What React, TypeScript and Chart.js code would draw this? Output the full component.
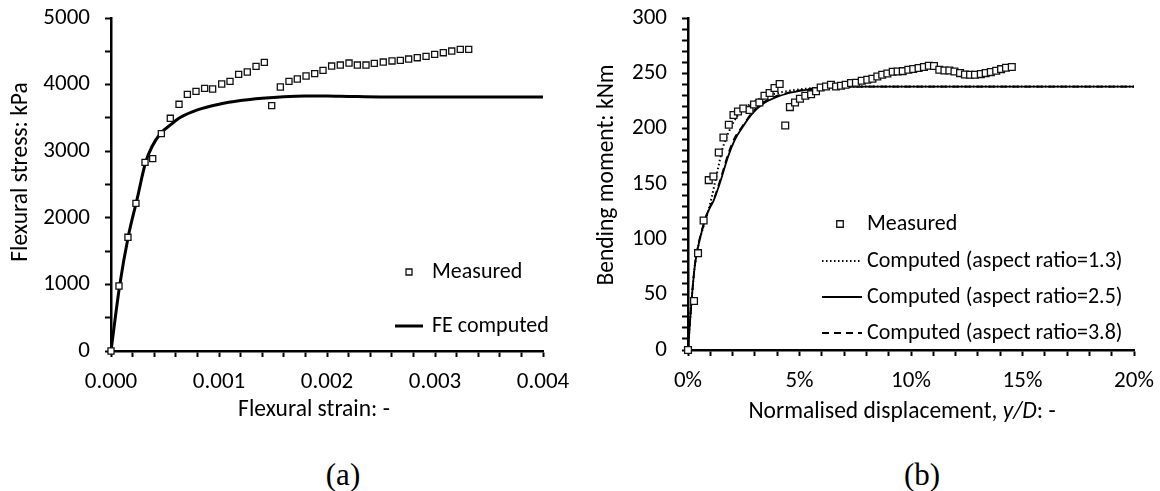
import React, { useEffect, useRef } from 'react';
import { Chart, registerables } from 'chart.js';

Chart.register(...registerables);

const FONT = 'Carlito, Calibri, Lato, "Open Sans", sans-serif';
const SERIF = '"Liberation Serif", "Times New Roman", serif';
const FS_TICK = 23;
const FS_TITLE = 23.5;
const FS_LEGEND = 22;

// ---------- Panel (a): flexural stress vs strain ----------
const strainMeasured = [
  0, 0.000074, 0.000157, 0.000231, 0.000315, 0.000386, 0.000466, 0.000549, 0.00063, 0.000707,
  0.000787, 0.000867, 0.000941, 0.001025, 0.001102, 0.001182, 0.001262, 0.001343, 0.00142, 0.001488,
  0.001568, 0.001648, 0.001725, 0.001806, 0.001886, 0.001963, 0.002043, 0.002123, 0.002204, 0.002281,
  0.002361, 0.002438, 0.002521, 0.002602, 0.002679, 0.002756, 0.002836, 0.002917, 0.002997, 0.003077,
  0.003155, 0.003234, 0.003312,
];
const stressMeasured = [
  0, 976, 1707, 2217, 2833, 2888, 3263, 3494, 3704, 3854,
  3899, 3944, 3934, 4009, 4049, 4154, 4189, 4274, 4334, 3684,
  3964, 4049, 4084, 4129, 4164, 4214, 4279, 4294, 4324, 4294,
  4294, 4319, 4339, 4355, 4364, 4384, 4404, 4424, 4454, 4479,
  4504, 4529, 4529,
];
const strainFE = [
  0, 0.00008, 0.00016, 0.00024, 0.00032, 0.00038, 0.00046, 0.00055, 0.00064, 0.0008,
  0.001, 0.0012, 0.0014, 0.0016, 0.0018, 0.002, 0.0022, 0.0025, 0.003, 0.0035, 0.004,
];
const stressFE = [
  0, 980, 1720, 2270, 2830, 3070, 3270, 3395, 3505, 3620,
  3705, 3760, 3795, 3818, 3828, 3828, 3822, 3815, 3815, 3815, 3815,
];
const strainTicksMajor = [0, 0.001, 0.002, 0.003, 0.004];

// ---------- Panel (b): bending moment vs normalised displacement (%) ----------
const dispMeasured = [
  0, 0.27, 0.45, 0.7, 0.93, 1.14, 1.38, 1.59, 1.83, 2.04,
  2.24, 2.48, 2.76, 2.96, 3.2, 3.43, 3.66, 3.88, 4.11, 4.36,
  4.57, 4.8, 5.02, 5.26, 5.52, 5.74, 5.95, 6.19, 6.41, 6.64,
  6.86, 7.07, 7.31, 7.53, 7.79, 8.04, 8.27, 8.49, 8.71, 8.94,
  9.18, 9.4, 9.63, 9.88, 10.1, 10.34, 10.58, 10.8, 11.03, 11.27,
  11.5, 11.72, 11.95, 12.2, 12.42, 12.65, 12.87, 13.13, 13.35, 13.58,
  13.82, 14.04, 14.26, 14.52,
];
const momentMeasured = [
  0, 44.3, 87.5, 117, 153.5, 156.8, 178.5, 192, 203.5, 212.3,
  215.5, 218.2, 216.8, 221.9, 223.7, 229.7, 232.2, 236.7, 240.3, 202.9,
  219.5, 223.7, 227, 229.7, 231.2, 233.9, 237.2, 238.1, 239.7, 238.1,
  238.8, 239.7, 241.2, 241.5, 243.3, 244.2, 245.1, 247.2, 248.7, 249.9,
  251.4, 251.7, 252, 253.2, 253.9, 254.8, 255.7, 256.9, 256.6, 253.2,
  252.6, 252.6, 251.7, 250.2, 249, 248.7, 248.7, 249.3, 250.2, 251.1,
  252.3, 253.8, 255, 255.7,
];
const dispAR13 = [0, 0.15, 0.3, 0.45, 0.7, 0.9, 1.05, 1.25, 1.55, 1.85, 2.2, 2.65, 3.25, 4.1, 5, 6.3, 8, 10, 15, 20];
const momentAR13 = [0, 42, 75, 93, 112, 125, 137, 155, 182, 198, 211, 220, 227.5, 232.5, 235.5, 237.5, 238, 238, 238, 238];
const dispAR25 = [0, 0.15, 0.3, 0.45, 0.7, 0.9, 1.15, 1.45, 1.8, 2.1, 2.4, 2.9, 3.4, 3.9, 4.5, 5.3, 6.5, 8, 10, 15, 20];
const momentAR25 = [0, 42, 75, 93, 113, 125, 135, 152, 175, 190, 200, 214, 223, 228, 232, 235, 237.5, 238, 238, 238, 238];
const dispAR38 = [0, 0.15, 0.3, 0.45, 0.7, 0.9, 1.15, 1.45, 1.8, 2.1, 2.4, 2.9, 3.4, 3.9, 4.5, 5.3, 6.5, 8, 10, 15, 20];
const momentAR38 = [0, 42, 76, 94, 114, 126, 136, 154, 177, 192, 201, 215, 224, 229, 232.5, 235.5, 237.5, 238, 238, 238, 238];

const legendA = ['Measured', 'FE computed'];
const legendB = [
  'Measured',
  'Computed (aspect ratio=1.3)',
  'Computed (aspect ratio=2.5)',
  'Computed (aspect ratio=3.8)',
];

const pts = (xs: number[], ys: number[]) => xs.map((x, i) => ({ x, y: ys[i] }));

const isMultiple = (v: number, step: number) => {
  const k = v / step;
  return Math.abs(k - Math.round(k)) < 1e-6;
};

function axisBase(min: number, max: number, step: number, cb: (v: number) => string) {
  return {
    type: 'linear' as const,
    min,
    max,
    border: { display: true, color: '#000', width: 2.5 },
    grid: {
      display: true,
      drawOnChartArea: false,
      drawTicks: true,
      tickLength: 6,
      tickWidth: 2,
      tickColor: '#000',
      color: '#000',
    },
    ticks: {
      stepSize: step,
      autoSkip: false,
      maxTicksLimit: 200,
      maxRotation: 0,
      minRotation: 0,
      color: '#000',
      font: { family: FONT, size: FS_TICK },
      callback: (v: any) => cb(Number(v)),
    },
  };
}

function xAxis(min: number, max: number, step: number, cb: (v: number) => string) {
  const a: any = axisBase(min, max, step, cb);
  a.position = 'bottom';
  a.ticks.padding = 11;
  a.afterFit = (s: any) => {
    s.height = 60;
    s.paddingLeft = 0;
    s.paddingRight = 0;
  };
  return a;
}

function yAxis(min: number, max: number, step: number, width: number, cb: (v: number) => string) {
  const a: any = axisBase(min, max, step, cb);
  a.position = 'left';
  a.ticks.padding = 15;
  a.afterFit = (s: any) => {
    s.width = width;
    s.paddingTop = 0;
    s.paddingBottom = 0;
  };
  return a;
}

function drawSquare(ctx: CanvasRenderingContext2D, x: number, y: number, side: number) {
  ctx.beginPath();
  ctx.rect(x - side / 2, y - side / 2, side, side);
  ctx.fillStyle = '#fff';
  ctx.fill();
  ctx.lineWidth = 1.3;
  ctx.strokeStyle = '#111';
  ctx.stroke();
}

function drawSegments(
  ctx: CanvasRenderingContext2D,
  segs: [string, boolean][],
  cx: number,
  cy: number,
) {
  const widths = segs.map(([s, it]) => {
    ctx.font = `${it ? 'italic ' : ''}${FS_TITLE}px ${FONT}`;
    return ctx.measureText(s).width;
  });
  const total = widths.reduce((a, b) => a + b, 0);
  let x = cx - total / 2;
  ctx.textAlign = 'left';
  ctx.textBaseline = 'middle';
  ctx.fillStyle = '#000';
  segs.forEach(([s, it], i) => {
    ctx.font = `${it ? 'italic ' : ''}${FS_TITLE}px ${FONT}`;
    ctx.fillText(s, x, cy);
    x += widths[i];
  });
}

function drawRotated(ctx: CanvasRenderingContext2D, s: string, cx: number, cy: number) {
  ctx.save();
  ctx.translate(cx, cy);
  ctx.rotate(-Math.PI / 2);
  ctx.font = `${FS_TITLE}px ${FONT}`;
  ctx.textAlign = 'center';
  ctx.textBaseline = 'middle';
  ctx.fillStyle = '#000';
  ctx.fillText(s, 0, 0);
  ctx.restore();
}

function drawLegendLine(
  ctx: CanvasRenderingContext2D,
  x1: number,
  x2: number,
  y: number,
  width: number,
  dash: number[],
) {
  ctx.save();
  ctx.beginPath();
  ctx.setLineDash(dash);
  ctx.lineWidth = width;
  ctx.strokeStyle = '#000';
  ctx.moveTo(x1, y);
  ctx.lineTo(x2, y);
  ctx.stroke();
  ctx.restore();
}

function legendText(ctx: CanvasRenderingContext2D, s: string, x: number, y: number) {
  ctx.font = `${FS_LEGEND}px ${FONT}`;
  ctx.textAlign = 'left';
  ctx.textBaseline = 'middle';
  ctx.fillStyle = '#000';
  ctx.fillText(s, x, y);
}

const decorA = {
  id: 'decorA',
  afterDraw(chart: any) {
    const ctx: CanvasRenderingContext2D = chart.ctx;
    const a = chart.chartArea;
    ctx.save();
    drawRotated(ctx, 'Flexural stress: kPa', a.left - 90, a.top + 154);
    drawSegments(ctx, [['Flexural strain: -', false]], a.left + 203, a.bottom + 59);
    // legend
    drawSquare(ctx, a.left + 298, a.top + 254, 6);
    legendText(ctx, legendA[0], a.left + 321, a.top + 254);
    drawLegendLine(ctx, a.left + 284, a.left + 312, a.top + 308, 3, []);
    legendText(ctx, legendA[1], a.left + 321, a.top + 308);
    ctx.restore();
  },
};

const decorB = {
  id: 'decorB',
  afterDraw(chart: any) {
    const ctx: CanvasRenderingContext2D = chart.ctx;
    const a = chart.chartArea;
    ctx.save();
    drawRotated(ctx, 'Bending moment: kNm', a.left - 81, a.top + 157);
    drawSegments(
      ctx,
      [
        ['Normalised displacement, ', false],
        ['y/D', true],
        [': -', false],
      ],
      a.left + 214,
      a.bottom + 62,
    );
    const lx1 = a.left + 134;
    const lx2 = a.left + 174;
    const tx = a.left + 179;
    drawSquare(ctx, a.left + 152, a.top + 206, 6.5);
    legendText(ctx, legendB[0], tx, a.top + 206);
    drawLegendLine(ctx, lx1, lx2, a.top + 243, 1.8, [1.5, 2.5]);
    legendText(ctx, legendB[1], tx, a.top + 243);
    drawLegendLine(ctx, lx1, lx2, a.top + 279, 1.8, []);
    legendText(ctx, legendB[2], tx, a.top + 279);
    drawLegendLine(ctx, lx1, lx2, a.top + 315, 1.8, [7, 5]);
    legendText(ctx, legendB[3], tx, a.top + 315);
    ctx.restore();
  },
};

function configA(): any {
  return {
    type: 'scatter',
    data: {
      datasets: [
        {
          label: legendA[0],
          data: pts(strainMeasured, stressMeasured),
          showLine: false,
          pointStyle: 'rect',
          pointRadius: 4.3,
          pointBorderWidth: 1.3,
          pointBackgroundColor: '#fff',
          pointBorderColor: '#111',
          clip: false,
        },
        {
          label: legendA[1],
          data: pts(strainFE, stressFE),
          showLine: true,
          pointRadius: 0,
          borderColor: '#000',
          borderWidth: 3,
          cubicInterpolationMode: 'monotone',
          clip: false,
        },
      ],
    },
    options: {
      animation: false,
      responsive: false,
      devicePixelRatio: 1,
      layout: { padding: { left: 0, top: 18, right: 32, bottom: 29 } },
      plugins: { legend: { display: false }, tooltip: { enabled: false } },
      scales: {
        x: xAxis(0, 0.004, 0.0002, (v) =>
          strainTicksMajor.some((m) => Math.abs(m - v) < 1e-9) ? v.toFixed(3) : '',
        ),
        y: yAxis(0, 5000, 500, 111, (v) => (isMultiple(v, 1000) ? String(v) : '')),
      },
    },
    plugins: [decorA],
  };
}

function configB(): any {
  return {
    type: 'scatter',
    data: {
      datasets: [
        {
          label: legendB[0],
          data: pts(dispMeasured, momentMeasured),
          showLine: false,
          pointStyle: 'rect',
          pointRadius: 4.8,
          pointBorderWidth: 1.3,
          pointBackgroundColor: '#fff',
          pointBorderColor: '#111',
          clip: false,
        },
        {
          label: legendB[1],
          data: pts(dispAR13, momentAR13),
          showLine: true,
          pointRadius: 0,
          borderColor: '#000',
          borderWidth: 2,
          borderDash: [1.5, 2.5],
          cubicInterpolationMode: 'monotone',
          clip: false,
        },
        {
          label: legendB[2],
          data: pts(dispAR25, momentAR25),
          showLine: true,
          pointRadius: 0,
          borderColor: '#000',
          borderWidth: 1.8,
          cubicInterpolationMode: 'monotone',
          clip: false,
        },
        {
          label: legendB[3],
          data: pts(dispAR38, momentAR38),
          showLine: true,
          pointRadius: 0,
          borderColor: '#000',
          borderWidth: 1.8,
          borderDash: [7, 5],
          cubicInterpolationMode: 'monotone',
          clip: false,
        },
      ],
    },
    options: {
      animation: false,
      responsive: false,
      devicePixelRatio: 1,
      layout: { padding: { left: 0, top: 18, right: 26, bottom: 30 } },
      plugins: { legend: { display: false }, tooltip: { enabled: false } },
      scales: {
        x: xAxis(0, 20, 1, (v) => (isMultiple(v, 5) ? `${Math.round(v)}%` : '')),
        y: yAxis(0, 300, 10, 113, (v) => (isMultiple(v, 50) ? String(Math.round(v)) : '')),
      },
    },
    plugins: [decorB],
  };
}

function Panel({ make, left, width, height }: { make: () => any; left: number; width: number; height: number }) {
  const ref = useRef<HTMLCanvasElement | null>(null);
  useEffect(() => {
    if (!ref.current) return;
    const chart = new Chart(ref.current, make());
    return () => chart.destroy();
  }, []);
  return (
    <canvas
      ref={ref}
      width={width}
      height={height}
      style={{ position: 'absolute', left, top: 0, width, height }}
    />
  );
}

function Caption({ text, cx, cy }: { text: string; cx: number; cy: number }) {
  return (
    <div
      style={{
        position: 'absolute',
        left: cx - 60,
        top: cy - 20,
        width: 120,
        height: 40,
        lineHeight: '40px',
        textAlign: 'center',
        fontFamily: SERIF,
        fontSize: 31,
        color: '#000',
      }}
    >
      {text}
    </div>
  );
}

export default function App() {
  return (
    <div
      style={{
        position: 'absolute',
        left: 0,
        top: 0,
        width: 1160,
        height: 491,
        background: '#fff',
        overflow: 'hidden',
      }}
    >
      <Panel make={configA} left={0} width={575} height={440} />
      <Panel make={configB} left={575} width={585} height={440} />
      <Caption text="(a)" cx={343} cy={475} />
      <Caption text="(b)" cx={922} cy={475} />
    </div>
  );
}
